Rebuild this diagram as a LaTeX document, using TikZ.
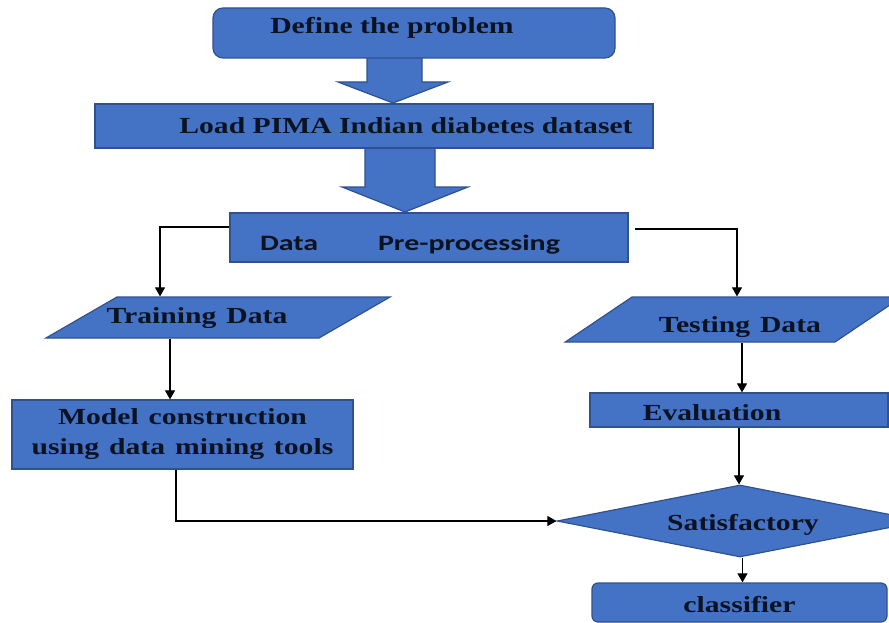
\documentclass[tikz,border=0pt]{standalone}
\usepackage{fontspec}
\setmainfont{Liberation Serif}
\newfontfamily\datafont{Carlito}
\usetikzlibrary{shapes.geometric,arrows.meta}
\definecolor{boxblue}{HTML}{4472C4}
\definecolor{edgeblue}{HTML}{2F528F}
\definecolor{ink}{HTML}{0B1222}
\newcommand{\wide}[1]{\scalebox{1.29}[1]{#1}}
\newcommand{\widesans}[1]{\scalebox{1.36}[1]{#1}}
\begin{document}
\begin{tikzpicture}[x=1pt,y=1pt,
        box/.style={draw=edgeblue,line width=1.2pt,fill=boxblue,inner sep=0pt,
            text=ink,font=\fontsize{23}{30}\selectfont\bfseries},
        blockarrow/.style={draw=edgeblue,line width=1.2pt,fill=boxblue},
        link/.style={draw=black,line width=1.1pt,-{Triangle[length=9pt,width=10pt]}}]
        \useasboundingbox (0,0) rectangle (889,-623);
        % big arrows first, the boxes cover their ends
        \draw[blockarrow] (367,-50) -- (367,-82) -- (338,-82) -- (393,-103)
            -- (448,-82) -- (422,-82) -- (422,-50);
        \draw[blockarrow] (365,-140) -- (365,-187) -- (342,-187) -- (405,-212)
            -- (468,-187) -- (435,-187) -- (435,-140);
        \node[box,rounded corners=10pt,minimum width=402pt,minimum height=50pt,
            text height=1.6pt,text depth=0.4pt] (define) at (414,-33)
            {\hspace*{-44pt}\wide{Define the problem}};
        \node[box,minimum width=558pt,minimum height=44pt,text height=14.2pt,text depth=0pt]
            (load) at (374,-126) {\hspace*{64pt}\wide{Load PIMA Indian diabetes dataset}};
        \node[box,minimum width=398pt,minimum height=49pt,text height=28pt,text depth=1.2pt,
            font=\datafont\fontsize{22}{26}\selectfont\bfseries] (data) at (429,-237.5)
            {\hspace*{-38pt}\widesans{Data\hspace{44pt}Pre-processing}};
        \node[box,trapezium,trapezium left angle=30,trapezium right angle=150,
            text width=202pt,align=center,text height=26.4pt,text depth=14.6pt]
            (train) at (218,-317.5) {\hspace*{-42pt}\wide{Training Data}};
        \node[box,trapezium,trapezium left angle=34,trapezium right angle=146,
            text width=203pt,align=center,text height=35.1pt,text depth=9.9pt]
            (test) at (733.5,-319.5) {\hspace*{13pt}\wide{Testing Data}};
        \node[box,minimum width=341pt,minimum height=69pt,text width=341pt,align=center]
            (model) at (182.5,-434.5) {\wide{Model construction}\\\wide{using data mining tools}};
        \node[box,minimum width=298pt,minimum height=34pt,text height=21.2pt,text depth=0pt]
            (eval) at (739,-410) {\hspace*{-54pt}\wide{Evaluation}};
        \node[box,diamond,aspect=5,minimum width=366pt,minimum height=72pt,
            text height=19.2pt,text depth=0pt] (sat) at (740,-521) {\hspace*{6pt}\wide{Satisfactory}};
        \node[box,rounded corners=6pt,minimum width=295pt,minimum height=39pt,
            text height=19pt,text depth=0pt] (classify) at (739.5,-602.5) {\wide{classifier}};
        % thin connectors
        \draw[link] ([yshift=10.5pt]data.west) -| ([xshift=-58pt]train.north);
        \draw[link] ([xshift=-48pt]train.south) -- ([xshift=-48pt]train.south |- model.north);
        \draw[link] ([xshift=-6.5pt]model.south) |- (sat.west);
        \draw[link] ([xshift=6pt,yshift=8.5pt]data.east) -| ([xshift=3.5pt]test.north);
        \draw[link] ([xshift=8.5pt]test.south) -- ([xshift=8.5pt]test.south |- eval.north);
        \draw[link] (eval.south) -- (eval.south |- sat.north);
        \draw[link] ([xshift=2.5pt]sat.south) -- ([xshift=2.5pt]sat.south |- classify.north);
\end{tikzpicture}
\end{document}
